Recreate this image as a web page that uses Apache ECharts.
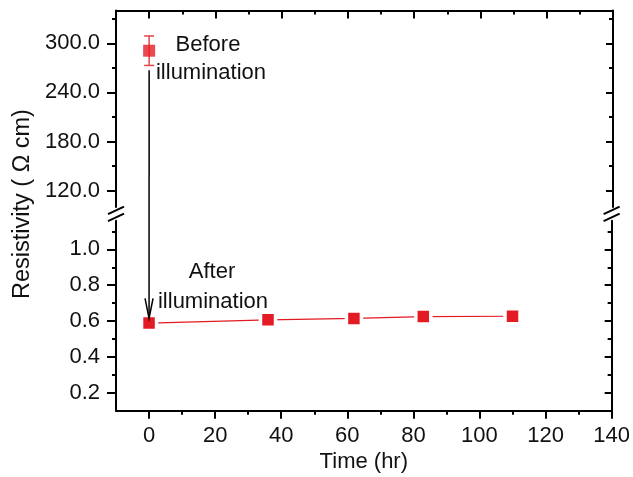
<!DOCTYPE html>
<html>
<head>
<meta charset="utf-8">
<script src="https://cdn.jsdelivr.net/npm/echarts@6/dist/echarts.min.js"></script>
<style>
  html, body { margin: 0; padding: 0; background: #fff; }
  #chart { width: 633px; height: 477px; }
</style>
</head>
<body>
<div id="chart"></div>
<script>
// before illumination (upper panel)
const beforeTime = [0];
const beforeValue = [291];
const beforeErrLow = [273];
const beforeErrHigh = [309];

// after illumination (lower panel)
const afterTime = [0, 36, 62, 83, 110];
const afterValue = [0.589, 0.607, 0.615, 0.625, 0.627];

// ticks
const xMajorTicks = [0, 20, 40, 60, 80, 100, 120, 140];
const xMinorTicks = [10, 30, 50, 70, 90, 110, 130];
const upperMajorTicks = [120, 180, 240, 300];
const upperMinorTicks = [150, 210, 270, 330];
const lowerMajorTicks = [0.2, 0.4, 0.6, 0.8, 1.0];
const lowerMinorTicks = [0.3, 0.5, 0.7, 0.9, 1.1];

const FONT = '"Liberation Sans", Arial, sans-serif';
const TEXT = '#111';
const RED = '#e31b23';

const chart = echarts.init(document.getElementById('chart'));

// one helper for every frame axis, major or minor ticks
function axis(base, ticks, len, inside, withLine, labels) {
  return Object.assign({
    type: 'value',
    axisLine: { show: withLine, onZero: false, lineStyle: { color: '#000', width: 2 } },
    axisTick: { show: true, customValues: ticks, inside: inside, length: len, lineStyle: { color: '#000', width: 2 } },
    axisLabel: labels ? Object.assign({ customValues: ticks, color: TEXT, fontSize: 22, fontFamily: FONT }, labels) : { show: false },
    splitLine: { show: false }
  }, base);
}

const xRange = { min: -10, max: 140 };
const upRange = { min: 100, max: 340 };
const lowRange = { min: 0.1, max: 1.16 };

chart.setOption({
  animation: false,
  grid: [
    { left: 116, right: 20, top: 10.6, height: 196.4 },
    { left: 116, right: 20, top: 220.7, height: 190 }
  ],
  xAxis: [
    axis(Object.assign({ gridIndex: 0, position: 'top' }, xRange), xMajorTicks, 8, true, true, null),
    axis(Object.assign({ gridIndex: 0, position: 'top' }, xRange), xMinorTicks, 4, true, false, null),
    axis(Object.assign({ gridIndex: 1, position: 'bottom', name: 'Time (hr)', nameLocation: 'middle', nameGap: 40,
      nameTextStyle: { color: TEXT, fontSize: 22, fontFamily: FONT } }, xRange),
      xMajorTicks, 8, false, true, { margin: 14 }),
    axis(Object.assign({ gridIndex: 1, position: 'bottom' }, xRange), xMinorTicks, 4, false, false, null)
  ],
  yAxis: [
    axis(Object.assign({ gridIndex: 0, position: 'left' }, upRange), upperMajorTicks, 9, false, true,
      { margin: 16, formatter: v => v.toFixed(1) }),
    axis(Object.assign({ gridIndex: 0, position: 'left' }, upRange), upperMinorTicks, 4, false, false, null),
    axis(Object.assign({ gridIndex: 0, position: 'right' }, upRange), upperMajorTicks, 7, true, true, null),
    axis(Object.assign({ gridIndex: 0, position: 'right' }, upRange), upperMinorTicks, 4, true, false, null),
    axis(Object.assign({ gridIndex: 1, position: 'left' }, lowRange), lowerMajorTicks, 9, false, true,
      { margin: 16, formatter: v => v.toFixed(1) }),
    axis(Object.assign({ gridIndex: 1, position: 'left' }, lowRange), lowerMinorTicks, 4, false, false, null),
    axis(Object.assign({ gridIndex: 1, position: 'right' }, lowRange), lowerMajorTicks, 7, true, true, null),
    axis(Object.assign({ gridIndex: 1, position: 'right' }, lowRange), lowerMinorTicks, 4, true, false, null)
  ],
  series: [
    {
      type: 'custom',
      xAxisIndex: 0,
      yAxisIndex: 0,
      data: beforeTime.map((t, i) => [t, beforeErrLow[i], beforeErrHigh[i]]),
      renderItem: (params, api) => {
        const lo = api.coord([api.value(0), api.value(1)]);
        const hi = api.coord([api.value(0), api.value(2)]);
        const style = { stroke: '#e0454b', lineWidth: 1.5 };
        return {
          type: 'group',
          children: [
            { type: 'line', shape: { x1: lo[0], y1: lo[1], x2: hi[0], y2: hi[1] }, style },
            { type: 'line', shape: { x1: lo[0] - 5, y1: lo[1], x2: lo[0] + 5, y2: lo[1] }, style },
            { type: 'line', shape: { x1: hi[0] - 5, y1: hi[1], x2: hi[0] + 5, y2: hi[1] }, style }
          ]
        };
      }
    },
    {
      type: 'scatter',
      xAxisIndex: 0,
      yAxisIndex: 0,
      symbol: 'rect',
      symbolSize: 12,
      itemStyle: { color: RED },
      data: beforeTime.map((t, i) => [t, beforeValue[i]])
    },
    {
      type: 'line',
      xAxisIndex: 2,
      yAxisIndex: 4,
      symbol: 'rect',
      symbolSize: 15,
      showAllSymbol: true,
      lineStyle: { color: RED, width: 1.2 },
      itemStyle: { color: RED, borderColor: '#fff', borderWidth: 3.5 },
      data: afterTime.map((t, i) => [t, afterValue[i]])
    }
  ]
});

// arrow, axis breaks and annotations placed through the axes
const arrowTop = chart.convertToPixel({ xAxisIndex: 0, yAxisIndex: 0 }, [0, 267]);
const arrowTip = chart.convertToPixel({ xAxisIndex: 2, yAxisIndex: 4 }, [0, 0.615]);
const upBottom = chart.convertToPixel({ yAxisIndex: 0 }, upRange.min);
const lowTop = chart.convertToPixel({ yAxisIndex: 4 }, lowRange.max);
const leftX = chart.convertToPixel({ xAxisIndex: 2 }, xRange.min);
const rightX = chart.convertToPixel({ xAxisIndex: 2 }, xRange.max);
const breakY = (upBottom + lowTop) / 2;

const ink = { stroke: '#000', lineWidth: 1.5, fill: null };
const graphics = [
  { type: 'line', z: 100, shape: { x1: arrowTop[0], y1: arrowTop[1], x2: arrowTip[0], y2: arrowTip[1] }, style: ink },
  { type: 'polyline', z: 100, shape: { points: [[arrowTip[0] - 4, arrowTip[1] - 20], arrowTip, [arrowTip[0] + 4, arrowTip[1] - 20]] }, style: ink }
];
[leftX, rightX].forEach(x => {
  [-3.5, 3.5].forEach(d => {
    graphics.push({
      type: 'line', z: 100,
      shape: { x1: x - 8, y1: breakY + d + 3.8, x2: x + 8, y2: breakY + d - 3.8 },
      style: { stroke: '#000', lineWidth: 2 }
    });
  });
});
const label = (text, x, y, size, rot) => ({
  type: 'text', z: 100, x: x, y: y, rotation: rot || 0,
  style: { text: text, fill: TEXT, fontSize: size, fontFamily: FONT, align: 'center', verticalAlign: 'middle', lineHeight: 29 }
});
graphics.push(label('Before', 208, 45, 22));
graphics.push(label('illumination', 211, 73, 22));
graphics.push(label('After', 212, 272, 22));
graphics.push(label('illumination', 213, 302, 22));
graphics.push(label('Resistivity ( \u03A9 cm)', 23, 204, 23.5, Math.PI / 2));
chart.setOption({ graphic: graphics });
</script>
</body>
</html>
